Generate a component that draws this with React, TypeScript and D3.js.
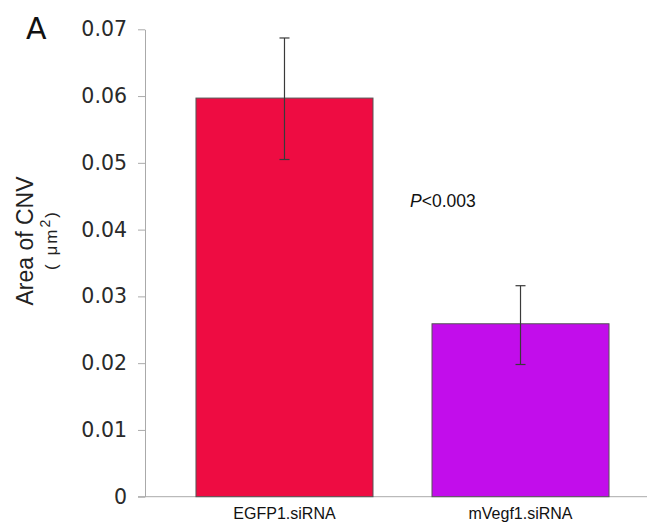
import React, { useRef, useEffect } from "react";
import * as d3 from "d3";

const categories = ["EGFP1.siRNA", "mVegf1.siRNA"];
const means = [0.0597, 0.0259];
const errLow = [0.0505, 0.0198];
const errHigh = [0.0687, 0.0316];
const barColors = ["#EE0C42", "#C20DEB"];
const yTicks = [0, 0.01, 0.02, 0.03, 0.04, 0.05, 0.06, 0.07];

function BarChart({ width, height }) {
  const svgRef = useRef<SVGSVGElement>(null);

  useEffect(() => {
    const svg = d3.select(svgRef.current);
    svg.selectAll("*").remove();

    const axisX = 145;
    const x = d3.scaleBand().domain(categories).range([axisX, 660]).paddingInner(0.25).paddingOuter(0.216);
    const y = d3.scaleLinear().domain([0, 0.07]).range([496.7, 29.3]);

    // y axis
    const yAxis = svg.append("g")
      .attr("transform", `translate(${axisX},0)`)
      .call(d3.axisLeft(y).tickValues(yTicks).tickFormat((d) => (d === 0 ? "0" : d3.format(".2f")(d))).tickSize(7).tickSizeOuter(0).tickPadding(11));
    yAxis.selectAll("path, line").attr("stroke", "#aaa").attr("stroke-width", 1);
    yAxis.selectAll("text")
      .attr("fill", "#2a2a2a")
      .style("font-family", "DejaVu Sans")
      .style("font-size", "20.5px");

    // baseline
    svg.append("line")
      .attr("x1", 138).attr("x2", width)
      .attr("y1", y(0)).attr("y2", y(0))
      .attr("stroke", "#aaa");

    const data = categories.map((c, i) => ({ c, v: means[i], lo: errLow[i], hi: errHigh[i], color: barColors[i] }));

    const g = svg.append("g");
    g.selectAll(".bar")
      .data(data)
      .enter()
      .append("rect")
      .attr("class", "bar")
      .attr("x", (d) => x(d.c))
      .attr("y", (d) => y(d.v))
      .attr("width", x.bandwidth())
      .attr("height", (d) => y(0) - y(d.v))
      .attr("fill", (d) => d.color)
      .attr("stroke", "#555")
      .attr("stroke-width", 1);

    // error bars
    const cap = 5;
    const eb = g.selectAll(".err").data(data).enter().append("g").attr("class", "err")
      .attr("stroke", "#3a3a3a").attr("stroke-width", 1.2);
    eb.append("line")
      .attr("x1", (d) => x(d.c) + x.bandwidth() / 2).attr("x2", (d) => x(d.c) + x.bandwidth() / 2)
      .attr("y1", (d) => y(d.hi)).attr("y2", (d) => y(d.lo));
    eb.append("line")
      .attr("x1", (d) => x(d.c) + x.bandwidth() / 2 - cap).attr("x2", (d) => x(d.c) + x.bandwidth() / 2 + cap)
      .attr("y1", (d) => y(d.hi)).attr("y2", (d) => y(d.hi));
    eb.append("line")
      .attr("x1", (d) => x(d.c) + x.bandwidth() / 2 - cap).attr("x2", (d) => x(d.c) + x.bandwidth() / 2 + cap)
      .attr("y1", (d) => y(d.lo)).attr("y2", (d) => y(d.lo));

    // category labels
    svg.selectAll(".xlab")
      .data(data)
      .enter()
      .append("text")
      .attr("x", (d) => x(d.c) + x.bandwidth() / 2)
      .attr("y", 519)
      .attr("text-anchor", "middle")
      .attr("fill", "#111")
      .style("font-family", "Liberation Sans")
      .style("font-size", "16px")
      .text((d) => d.c);

    // y label
    svg.append("text")
      .attr("transform", "translate(33,241) rotate(-90)")
      .attr("text-anchor", "middle")
      .attr("fill", "#222")
      .style("font-family", "Liberation Sans")
      .style("font-size", "23px")
      .text("Area of CNV");

    const unit = svg.append("text")
      .attr("transform", "translate(57,240) rotate(-90)")
      .attr("text-anchor", "middle")
      .attr("fill", "#222")
      .style("font-family", "Liberation Sans")
      .style("font-size", "17px")
      .style("letter-spacing", "2px");
    unit.append("tspan").text("( μm");
    unit.append("tspan").attr("dy", -7).style("font-size", "14px").text("2");
    unit.append("tspan").attr("dy", 7).text(")");

    // panel letter
    svg.append("text")
      .attr("x", 26).attr("y", 39)
      .attr("fill", "#111")
      .style("font-family", "DejaVu Sans")
      .style("font-size", "30px")
      .text("A");

    // significance
    const p = svg.append("text")
      .attr("x", 410).attr("y", 207)
      .attr("fill", "#111")
      .style("font-family", "Liberation Sans")
      .style("font-size", "17.5px");
    p.append("tspan").style("font-style", "italic").text("P");
    p.append("tspan").text("<0.003");
  }, [width, height]);

  return <svg ref={svgRef} width={width} height={height} style={{ position: "absolute", left: 0, top: 0, background: "#fff" }}></svg>;
}

export default function App() {
  return <BarChart width={647} height={522} />;
}
